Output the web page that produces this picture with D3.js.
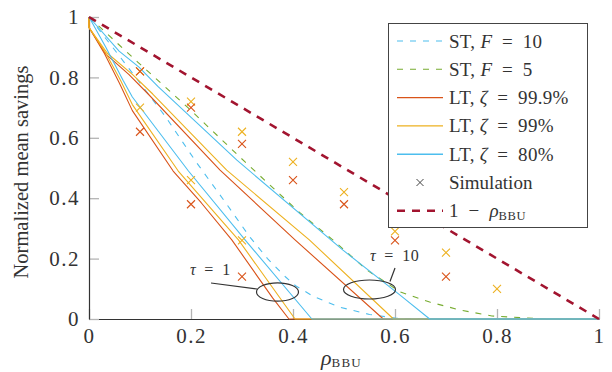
<!DOCTYPE html>
<html><head><meta charset="utf-8">
<script src="https://cdn.jsdelivr.net/npm/d3@7"></script>
<style>
body{margin:0;background:#fff}
svg{display:block}
text{font-family:"Liberation Serif","Times New Roman",serif;fill:#333}
</style>
</head><body><svg id="c" width="612" height="372"></svg>
<script>
// ---- data ----
const xTicks = [0, 0.2, 0.4, 0.6, 0.8, 1];
const xTickLabels = ["0", "0.2", "0.4", "0.6", "0.8", "1"];
const yTicks = [0, 0.2, 0.4, 0.6, 0.8, 1];
const yTickLabels = ["0", "0.2", "0.4", "0.6", "0.8", "1"];

const stF10 = [[0,1],[0.06,0.87],[0.15,0.67],[0.21,0.52],[0.27,0.38],[0.316,0.27],[0.35,0.20],[0.385,0.14],[0.405,0.11],[0.44,0.075],[0.49,0.04],[0.55,0.015],[0.60,0.003],[0.65,0],[1,0]];
const stF5 = [[0,1],[0.096,0.85],[0.194,0.70],[0.306,0.52],[0.414,0.351],[0.478,0.262],[0.545,0.162],[0.61,0.09],[0.668,0.056],[0.727,0.03],[0.79,0.01],[0.86,0.003],[0.9,0],[1,0]];

const lt999Tau1 = [[0,1],[0,0.965],[0.03,0.88],[0.06,0.78],[0.085,0.69],[0.165,0.49],[0.22,0.385],[0.28,0.262],[0.36,0.07],[0.392,0],[1,0]];
const lt999Tau10 = [[0,1],[0,0.965],[0.033,0.877],[0.078,0.81],[0.116,0.745],[0.257,0.493],[0.404,0.262],[0.577,0],[1,0]];
const lt99Tau1 = [[0,1],[0,0.965],[0.033,0.88],[0.062,0.79],[0.085,0.71],[0.175,0.49],[0.293,0.262],[0.404,0],[1,0]];
const lt99Tau10 = [[0,1],[0,0.965],[0.036,0.88],[0.085,0.81],[0.125,0.745],[0.27,0.493],[0.432,0.262],[0.597,0],[1,0]];
const lt80Tau1 = [[0,1],[0.033,0.90],[0.067,0.79],[0.085,0.735],[0.195,0.49],[0.306,0.262],[0.437,0],[1,0]];
const lt80Tau10 = [[0,1],[0.059,0.887],[0.098,0.834],[0.135,0.77],[0.29,0.526],[0.498,0.228],[0.61,0.079],[0.668,0],[1,0]];

const bound = [[0,1],[1,0]];

const simX = [0.1, 0.2, 0.3, 0.4, 0.5, 0.6, 0.7, 0.8];
const sim99Tau10 = [0.82, 0.72, 0.62, 0.52, 0.42, 0.29, 0.22, 0.10];
const sim999Tau10 = [0.82, 0.70, 0.58, 0.46, 0.38, 0.26, 0.14, null];
const sim99Tau1 = [0.70, 0.46, 0.26, null, null, null, null, null];
const sim999Tau1 = [0.62, 0.38, 0.14, null, null, null, null, null];

const C = {blue:"#4DBEEE", green:"#77AC30", orange:"#D95319", yellow:"#EDB120", red:"#A2142F"};

// ---- chart ----
const svg = d3.select("#c");
const x = d3.scaleLinear().domain([0,1]).range([89,599]);
const y = d3.scaleLinear().domain([0,1]).range([319,17]);

const gx = svg.append("g").attr("transform","translate(0,319)")
  .call(d3.axisBottom(x).tickValues(xTicks).tickFormat((d,i)=>xTickLabels[i]).tickSize(-10).tickSizeOuter(0).tickPadding(9));
const gy = svg.append("g").attr("transform","translate(89,0)")
  .call(d3.axisLeft(y).tickValues(yTicks).tickFormat((d,i)=>yTickLabels[i]).tickSize(-10).tickSizeOuter(0).tickPadding(9));
[gx,gy].forEach(g=>{
  g.selectAll(".tick line").attr("stroke","#b4b4b4").attr("stroke-width",1.3);
  g.selectAll(".tick text").attr("font-family","Liberation Serif").attr("font-size",21).attr("letter-spacing",1.5).attr("fill","#333");
  g.select(".domain").attr("stroke","#333").attr("stroke-width",1.2).raise();
});

const line = d3.line().x(d=>x(d[0])).y(d=>y(d[1]));
function drawLine(data, color, dash, w){
  svg.append("path").datum(data).attr("d",line).attr("fill","none")
    .attr("stroke",color).attr("stroke-width",w||1.1)
    .attr("stroke-dasharray",dash||null).attr("stroke-linejoin","round");
}
drawLine(stF10, C.blue, "6,7");
drawLine(stF5, C.green, "6,7");
drawLine(lt999Tau1, C.orange);
drawLine(lt999Tau10, C.orange);
drawLine(lt99Tau1, C.yellow);
drawLine(lt99Tau10, C.yellow);
drawLine(lt80Tau1, C.blue);
drawLine(lt80Tau10, C.blue);

const cross = "M-4,-4L4,4M-4,4L4,-4";
function drawSim(vals, color){
  svg.append("g").selectAll("path").data(simX.map((v,i)=>[v,vals[i]]).filter(d=>d[1]!==null))
    .join("path").attr("d",cross).attr("transform",d=>`translate(${x(d[0])},${y(d[1])})`)
    .attr("stroke",color).attr("stroke-width",1.1).attr("fill","none");
}
drawSim(sim99Tau10, C.yellow);
drawSim(sim99Tau1, C.yellow);
drawSim(sim999Tau10, C.orange);
drawSim(sim999Tau1, C.orange);

drawLine(bound, C.red, "8,7", 2.6);

// annotations
const ann = svg.append("g").attr("stroke","#333").attr("stroke-width",1.2).attr("fill","none");
ann.append("ellipse").attr("cx",277.5).attr("cy",292).attr("rx",21).attr("ry",9.2);
ann.append("line").attr("x1",211).attr("y1",283).attr("x2",257).attr("y2",289);
ann.append("ellipse").attr("cx",369.5).attr("cy",289.5).attr("rx",26).attr("ry",9.5);
ann.append("line").attr("x1",390).attr("y1",281.5).attr("x2",395).attr("y2",268);
function tauText(tx, ty, val){
  const t = svg.append("text").attr("x",tx).attr("y",ty).attr("font-size",16).attr("fill","#444");
  t.append("tspan").attr("font-style","italic").text("τ");
  t.append("tspan").attr("letter-spacing",0.5).text("\u2002=\u2002" + val);
}
tauText(190, 275, "1");
tauText(370, 261, "10");

// legend
const lg = svg.append("g");
lg.append("rect").attr("x",388.5).attr("y",23.5).attr("width",199).attr("height",204)
  .attr("fill","#fff").attr("stroke","#444").attr("stroke-width",1);
const legendItems = [
  {type:"line", color:C.blue, dash:"6,7", w:1.1, parts:[["ST, ",0],["F",1],["\u2002=\u200210",0]]},
  {type:"line", color:C.green, dash:"6,7", w:1.1, parts:[["ST, ",0],["F",1],["\u2002=\u20025",0]]},
  {type:"line", color:C.orange, w:1.3, parts:[["LT, ",0],["ζ",1],["\u2002=\u200299.9%",0]]},
  {type:"line", color:C.yellow, w:1.3, parts:[["LT, ",0],["ζ",1],["\u2002=\u200299%",0]]},
  {type:"line", color:C.blue, w:1.6, parts:[["LT, ",0],["ζ",1],["\u2002=\u200280%",0]]},
  {type:"mark", color:"#444", parts:[["Simulation",0]]},
  {type:"line", color:C.red, dash:"8,7", w:2.6, parts:[["1\u2002−\u2002",0],["ρ",1],["BBU",2]]}
];
legendItems.forEach((it,i)=>{
  const cy = 41 + i*28.3;
  if(it.type==="line"){
    lg.append("line").attr("x1",397).attr("x2",443).attr("y1",cy).attr("y2",cy)
      .attr("stroke",it.color).attr("stroke-width",it.w).attr("stroke-dasharray",it.dash||null);
  } else {
    lg.append("path").attr("d","M-3.5,-3.5L3.5,3.5M-3.5,3.5L3.5,-3.5")
      .attr("transform",`translate(420,${cy})`).attr("stroke",it.color).attr("stroke-width",1).attr("fill","none");
  }
  const t = lg.append("text").attr("x",449).attr("y",cy+6.5).attr("font-size",19).attr("fill","#222");
  it.parts.forEach(p=>{
    const s = t.append("tspan").text(p[0]);
    if(p[1]===0 && i!==5) s.attr("letter-spacing",0.3);
    if(p[1]===1) s.attr("font-style","italic");
    if(p[1]===2) s.attr("font-size",12.5).attr("dy",3).attr("letter-spacing",0.6);
  });
});

// axis labels
svg.append("text").attr("transform","translate(28,172) rotate(-90)").attr("text-anchor","middle")
  .attr("font-family","Liberation Serif").attr("font-size",20.5).attr("fill","#333").text("Normalized mean savings");
const xl = svg.append("text").attr("x",321).attr("y",365).attr("font-size",22).attr("fill","#333");
xl.append("tspan").attr("font-style","italic").text("ρ");
xl.append("tspan").attr("font-size",13).attr("dy",2).attr("letter-spacing",1.2).text("BBU");
</script></body></html>
